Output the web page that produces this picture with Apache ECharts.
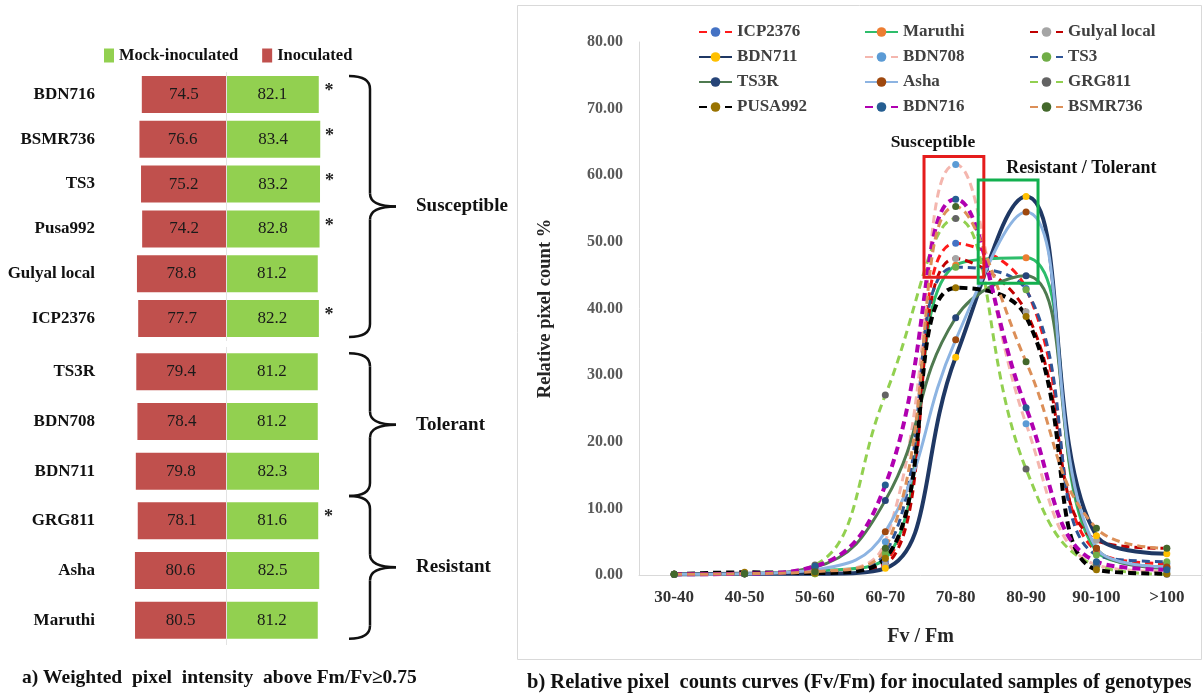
<!DOCTYPE html>
<html>
<head>
<meta charset="utf-8">
<script src="https://cdn.jsdelivr.net/npm/echarts@6/dist/echarts.min.js"></script>
<style>
  html, body { margin: 0; padding: 0; background: #fff; }
  #chart { width: 1203px; height: 695px; }
</style>
</head>
<body>
<div id="chart"></div>
<script>
// panel a: weighted pixel intensity
const genotypesTop = ["BDN716", "BSMR736", "TS3", "Pusa992", "Gulyal local", "ICP2376"];
const inoculatedTop = [74.5, 76.6, 75.2, 74.2, 78.8, 77.7];
const mockTop = [82.1, 83.4, 83.2, 82.8, 81.2, 82.2];
const significantTop = [true, true, true, true, false, true];

const genotypesBottom = ["TS3R", "BDN708", "BDN711", "GRG811", "Asha", "Maruthi"];
const inoculatedBottom = [79.4, 78.4, 79.8, 78.1, 80.6, 80.5];
const mockBottom = [81.2, 81.2, 82.3, 81.6, 82.5, 81.2];
const significantBottom = [false, false, false, true, false, false];

const groupNames = ["Susceptible", "Tolerant", "Resistant"];

// panel b: relative pixel counts (%)
const bins = ["30-40", "40-50", "50-60", "60-70", "70-80", "80-90", "90-100", ">100"];
const curveICP2376 = [0.1, 0.2, 0.3, 2.0, 49.8, 43.0, 3.5, 1.7];
const curveMaruthi = [0.1, 0.2, 0.6, 2.5, 46.5, 47.6, 3.6, 1.2];
const curveGulyalLocal = [0.1, 0.2, 0.3, 1.5, 47.5, 39.5, 5.2, 4.0];
const curveBDN711 = [0.1, 0.2, 0.2, 1.0, 32.7, 56.8, 5.9, 3.2];
const curveBDN708 = [0.1, 0.2, 0.5, 5.0, 61.6, 22.7, 1.5, 0.5];
const curveTS3 = [0.1, 0.2, 0.2, 3.3, 46.2, 42.8, 3.0, 2.0];
const curveTS3R = [0.1, 0.2, 1.2, 11.2, 38.6, 44.9, 4.0, 1.0];
const curveAsha = [0.1, 0.2, 0.8, 6.5, 35.3, 54.5, 4.0, 1.2];
const curveGRG811 = [0.1, 0.2, 1.5, 27.0, 53.5, 15.9, 1.4, 0.1];
const curvePUSA992 = [0.1, 0.4, 0.3, 2.5, 43.1, 38.8, 0.8, 0.2];
const curveBDN716 = [0.1, 0.2, 1.3, 13.5, 56.4, 25.1, 2.0, 0.8];
const curveBSMR736 = [0.1, 0.2, 0.5, 4.0, 55.3, 32.0, 7.0, 4.0];

const SERIF = '"Liberation Serif", "Times New Roman", serif';
const RED = "#c0504d";
const GREEN = "#92d050";
const BAR_WIDTH = 37;

// line colour, marker colour, dash, width
const curveStyles = [
  { name: "ICP2376", data: curveICP2376, line: "#ff1a1a", marker: "#4472c4", dash: [8, 5], width: 3 },
  { name: "Maruthi", data: curveMaruthi, line: "#2ebd6b", marker: "#ed7d31", dash: "solid", width: 3 },
  { name: "Gulyal local", data: curveGulyalLocal, line: "#c00000", marker: "#a5a5a5", dash: [8, 5], width: 3 },
  { name: "BDN711", data: curveBDN711, line: "#1f3864", marker: "#ffc000", dash: "solid", width: 4 },
  { name: "BDN708", data: curveBDN708, line: "#f4b6ae", marker: "#5b9bd5", dash: [8, 5], width: 3 },
  { name: "TS3", data: curveTS3, line: "#2f5597", marker: "#70ad47", dash: [8, 5], width: 3 },
  { name: "TS3R", data: curveTS3R, line: "#4f7a50", marker: "#264478", dash: "solid", width: 3 },
  { name: "Asha", data: curveAsha, line: "#8db4e2", marker: "#9e480e", dash: "solid", width: 3 },
  { name: "GRG811", data: curveGRG811, line: "#92d050", marker: "#636363", dash: [8, 5], width: 3 },
  { name: "PUSA992", data: curvePUSA992, line: "#000000", marker: "#997300", dash: [8, 5], width: 4 },
  { name: "BDN716", data: curveBDN716, line: "#b000b0", marker: "#255e91", dash: [8, 5], width: 4 },
  { name: "BSMR736", data: curveBSMR736, line: "#dc8f58", marker: "#43682b", dash: [8, 5], width: 3 },
];

const chart = echarts.init(document.getElementById("chart"));

function barSeries(axisIndex, stack, inoc, mock, signif) {
  const labelStyle = {
    show: true,
    position: "inside",
    fontFamily: SERIF,
    fontSize: 17,
    color: "#1a1a1a",
  };
  return [
    {
      name: "Inoculated",
      type: "bar",
      xAxisIndex: axisIndex,
      yAxisIndex: axisIndex,
      stack: stack,
      barWidth: BAR_WIDTH,
      itemStyle: { color: RED },
      data: inoc.map((v) => -v),
      label: { ...labelStyle, formatter: (p) => Math.abs(p.value).toFixed(1) },
    },
    {
      name: "Mock-inoculated",
      type: "bar",
      xAxisIndex: axisIndex,
      yAxisIndex: axisIndex,
      stack: stack,
      barWidth: BAR_WIDTH,
      itemStyle: { color: GREEN },
      data: mock,
      label: { ...labelStyle, formatter: (p) => p.value.toFixed(1) },
      markLine: {
        silent: true,
        symbol: "none",
        label: { show: false },
        lineStyle: { color: "#e3e3e3", type: "solid", width: 1 },
        data: [{ xAxis: 0 }],
      },
    },
    {
      name: "significance",
      type: "bar",
      xAxisIndex: axisIndex,
      yAxisIndex: axisIndex,
      stack: stack,
      barWidth: BAR_WIDTH,
      silent: true,
      itemStyle: { color: "rgba(0,0,0,0)" },
      data: signif.map((s) => (s ? 20 : null)),
      label: {
        show: true,
        position: "inside",
        offset: [0, -3],
        formatter: "*",
        fontFamily: SERIF,
        fontSize: 18,
        fontWeight: "bold",
        color: "#222",
      },
    },
  ];
}

const leftValueAxis = (gridIndex) => ({
  type: "value",
  gridIndex: gridIndex,
  min: -100,
  max: 100,
  show: false,
});

const leftCategoryAxis = (gridIndex, names) => ({
  type: "category",
  gridIndex: gridIndex,
  data: names,
  inverse: true,
  axisLine: { show: false },
  axisTick: { show: false },
  axisLabel: {
    margin: 18,
    fontFamily: SERIF,
    fontWeight: "bold",
    fontSize: 17,
    color: "#111",
  },
});

const curveLegend = (left, names) => ({
  orient: "vertical",
  left: left,
  top: 23,
  padding: 0,
  itemWidth: 33,
  itemHeight: 12,
  itemGap: 7,
  data: names,
  textStyle: {
    fontFamily: SERIF,
    fontWeight: "bold",
    fontSize: 17,
    lineHeight: 18,
    color: "#404040",
  },
});

const option = {
  backgroundColor: "#fff",
  animation: false,
  grid: [
    { left: 113, width: 226, top: 72, height: 269 },
    { left: 113, width: 226, top: 347, height: 298 },
    { left: 639, right: 1, top: 42, bottom: 120 },
  ],
  legend: [
    {
      left: 104,
      top: 47,
      padding: 0,
      icon: "rect",
      itemWidth: 10,
      itemHeight: 14,
      itemGap: 24,
      data: ["Mock-inoculated", "Inoculated"],
      textStyle: { fontFamily: SERIF, fontWeight: "bold", fontSize: 16.5, color: "#111" },
    },
    curveLegend(698, ["ICP2376", "BDN711", "TS3R", "PUSA992"]),
    curveLegend(864, ["Maruthi", "BDN708", "Asha", "BDN716"]),
    curveLegend(1029, ["Gulyal local", "TS3", "GRG811", "BSMR736"]),
  ],
  xAxis: [
    leftValueAxis(0),
    leftValueAxis(1),
    {
      type: "category",
      gridIndex: 2,
      data: bins,
      boundaryGap: true,
      axisTick: { show: false },
      axisLine: { lineStyle: { color: "#d9d9d9", width: 1 } },
      axisLabel: {
        margin: 14,
        fontFamily: SERIF,
        fontWeight: "bold",
        fontSize: 17,
        color: "#333",
      },
      name: "Fv / Fm",
      nameLocation: "middle",
      nameGap: 52,
      nameTextStyle: { fontFamily: SERIF, fontWeight: "bold", fontSize: 20, color: "#262626" },
    },
  ],
  yAxis: [
    leftCategoryAxis(0, genotypesTop),
    leftCategoryAxis(1, genotypesBottom),
    {
      type: "value",
      gridIndex: 2,
      min: 0,
      max: 80,
      interval: 10,
      splitLine: { show: false },
      axisLine: { show: true, lineStyle: { color: "#d9d9d9", width: 1 } },
      axisTick: { show: false },
      axisLabel: {
        margin: 16,
        formatter: (v) => v.toFixed(2),
        fontFamily: SERIF,
        fontWeight: "bold",
        fontSize: 16,
        color: "#595959",
      },
      name: "Relative pixel count %",
      nameLocation: "middle",
      nameRotate: 90,
      nameGap: 84,
      nameTextStyle: { fontFamily: SERIF, fontWeight: "bold", fontSize: 18.5, color: "#262626" },
    },
  ],
  series: [
    ...barSeries(0, "top", inoculatedTop, mockTop, significantTop),
    ...barSeries(1, "bottom", inoculatedBottom, mockBottom, significantBottom),
    ...curveStyles.map((c) => ({
      name: c.name,
      type: "line",
      xAxisIndex: 2,
      yAxisIndex: 2,
      smooth: 0.45,
      data: c.data,
      symbol: "circle",
      symbolSize: 7,
      showSymbol: true,
      itemStyle: { color: c.marker },
      lineStyle: { color: c.line, width: c.width, type: c.dash },
    })),
  ],
};

chart.setOption(option);

// annotations placed from the axes
const braceStyle = { stroke: "#111", lineWidth: 2.5, fill: "none" };

function braceElements(y1, y2) {
  const x0 = 349;
  const xs = 370;
  const xt = 396;
  const r = 13;
  const ym = (y1 + y2) / 2;
  const curve = (ax, ay, cx, cy, bx, by) => ({
    type: "bezierCurve",
    shape: { x1: ax, y1: ay, cpx1: cx, cpy1: cy, x2: bx, y2: by },
    style: braceStyle,
  });
  const line = (ax, ay, bx, by) => ({
    type: "line",
    shape: { x1: ax, y1: ay, x2: bx, y2: by },
    style: braceStyle,
  });
  return [
    curve(x0, y1, xs, y1, xs, y1 + r),
    line(xs, y1 + r, xs, ym - r),
    curve(xs, ym - r, xs, ym, xt, ym),
    curve(xt, ym, xs, ym, xs, ym + r),
    line(xs, ym + r, xs, y2 - r),
    curve(xs, y2 - r, xs, y2, x0, y2),
  ];
}

function rowY(axisIndex, index) {
  return chart.convertToPixel({ yAxisIndex: axisIndex }, index);
}

const half = BAR_WIDTH / 2;
const splitY = (rowY(1, 2) + rowY(1, 3)) / 2;
const braceRanges = [
  [rowY(0, 0) - half, rowY(0, 5) + half],
  [rowY(1, 0) - half, splitY],
  [splitY, rowY(1, 5) + half],
];

const graphics = [];
braceRanges.forEach(([y1, y2], i) => {
  graphics.push(...braceElements(y1, y2));
  graphics.push({
    type: "text",
    x: 416,
    y: (y1 + y2) / 2,
    style: {
      text: groupNames[i],
      font: `bold 19px ${SERIF}`,
      fill: "#111",
      verticalAlign: "middle",
    },
  });
});

// highlight boxes on the curves
const c70 = chart.convertToPixel({ xAxisIndex: 2 }, 4);
const c80 = chart.convertToPixel({ xAxisIndex: 2 }, 5);
const bandWidth = c80 - c70;
const vy = (v) => chart.convertToPixel({ yAxisIndex: 2 }, v);

const redBox = { x1: c70 - 0.45 * bandWidth, x2: c70 + 0.4 * bandWidth, top: vy(62.8), bottom: vy(44.7) };
const greenBox = { x1: c80 - 0.68 * bandWidth, x2: c80 + 0.17 * bandWidth, top: vy(59.3), bottom: vy(43.8) };

[[redBox, "#e51c1c"], [greenBox, "#12b04f"]].forEach(([b, color]) => {
  graphics.push({
    type: "rect",
    z: 10,
    shape: { x: b.x1, y: b.top, width: b.x2 - b.x1, height: b.bottom - b.top },
    style: { stroke: color, lineWidth: 3, fill: "none" },
  });
});

graphics.push({
  type: "text",
  z: 10,
  x: (redBox.x1 + redBox.x2) / 2 - 21,
  y: redBox.top - 14,
  style: { text: "Susceptible", font: `bold 17.5px ${SERIF}`, fill: "#111", align: "center", verticalAlign: "middle" },
});
graphics.push({
  type: "text",
  z: 10,
  x: greenBox.x1 + 28,
  y: greenBox.top - 12,
  style: { text: "Resistant / Tolerant", font: `bold 18px ${SERIF}`, fill: "#111", verticalAlign: "middle" },
});

// frame of panel b and captions
graphics.push({
  type: "rect",
  shape: { x: 517.5, y: 5.5, width: 684, height: 654 },
  style: { stroke: "#d9d9d9", lineWidth: 1, fill: "none" },
});
graphics.push({
  type: "text",
  x: 22,
  y: 678,
  style: {
    text: "a) Weighted  pixel  intensity  above Fm/Fv\u22650.75",
    font: `bold 19.5px ${SERIF}`,
    fill: "#111",
    verticalAlign: "middle",
  },
});
graphics.push({
  type: "text",
  x: 527,
  y: 683,
  style: {
    text: "b) Relative pixel  counts curves (Fv/Fm) for inoculated samples of genotypes",
    font: `bold 20.5px ${SERIF}`,
    fill: "#111",
    verticalAlign: "middle",
  },
});

chart.setOption({ graphic: { elements: graphics } });
</script>
</body>
</html>
